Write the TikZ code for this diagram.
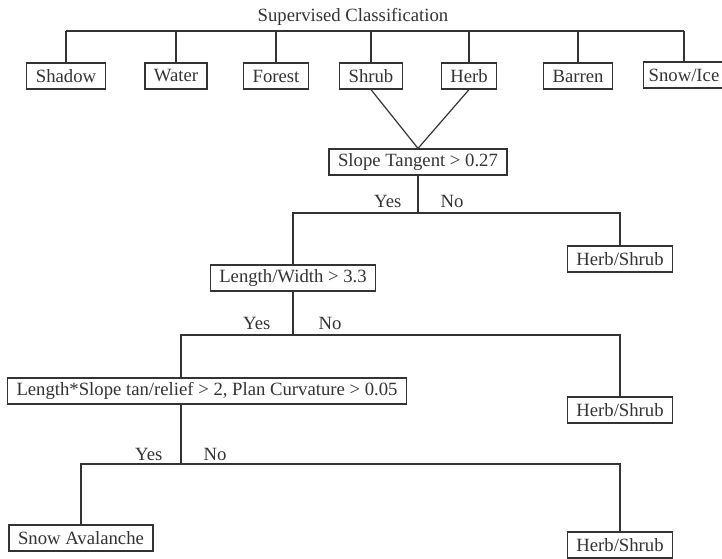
\documentclass[tikz,border=0pt]{standalone}
\usepackage{fontspec}
\setmainfont{Liberation Serif}
\begin{document}
\begin{tikzpicture}[x=1pt,y=-1pt,line width=1.2pt,color=black!80,
		box/.style={draw,inner xsep=9pt,inner ysep=0pt,minimum height=26pt,font=\fontsize{18.7}{20}\selectfont},
		lbl/.style={inner sep=0pt,font=\fontsize{18.7}{20}\selectfont}]
		\useasboundingbox (0,0) rectangle (722,558);
		% top level
		\node[lbl] (title) at (353,17) {Supervised Classification};
		\node[box] (shadow) at (66,76) {Shadow};
		\node[box] (water) at (176,76) {Water};
		\node[box] (forest) at (276,76) {Forest};
		\node[box] (shrub) at (371,76) {Shrub};
		\node[box] (herb) at (469,76) {Herb};
		\node[box] (barren) at (578,76) {Barren};
		\node[box,inner xsep=5pt] (snowice) at (684,75) {Snow/Ice};
		\coordinate (bar0) at (0,31);
		\draw (shadow.north |- bar0) -- (snowice.north |- bar0);
		\foreach \n in {shadow,water,forest,shrub,herb,barren,snowice}
			\draw (\n.north) -- (\n.north |- bar0);
		% first split
		\node[box] (slope) at (418,162) {Slope Tangent > 0.27};
		\draw (shrub.south) -- (slope.north) -- (herb.south);
		\coordinate (split1) at (418,213);
		\node[box] (lw) at (293,278) {Length/Width > 3.3};
		\node[box] (hs1) at (620,259) {Herb/Shrub};
		\draw (slope.south) -- (split1);
		\draw (lw.north) |- (split1) -| (hs1.north);
		\node[lbl,anchor=east] (yes1) at (402,201) {Yes};
		\node[lbl,anchor=west] (no1) at (440,201) {No};
		% second split
		\coordinate (split2) at (293,335);
		\coordinate (leg2) at (181,335);
		\node[box] (long) at (207,391) {Length*Slope tan/relief > 2, Plan Curvature > 0.05};
		\node[box] (hs2) at (620,410) {Herb/Shrub};
		\draw (lw.south) -- (split2);
		\draw (long.north -| leg2) |- (split2) -| (hs2.north);
		\node[lbl,anchor=east] (yes2) at (271,323) {Yes};
		\node[lbl,anchor=west] (no2) at (318,323) {No};
		% third split
		\coordinate (split3) at (181,464);
		\node[box] (aval) at (81,538) {Snow Avalanche};
		\node[box] (hs3) at (620,545) {Herb/Shrub};
		\draw (long.south -| split3) -- (split3);
		\draw (aval.north) |- (split3) -| (hs3.north);
		\node[lbl,anchor=east] (yes3) at (163,454) {Yes};
		\node[lbl,anchor=west] (no3) at (203,454) {No};
	\end{tikzpicture}
\end{document}
